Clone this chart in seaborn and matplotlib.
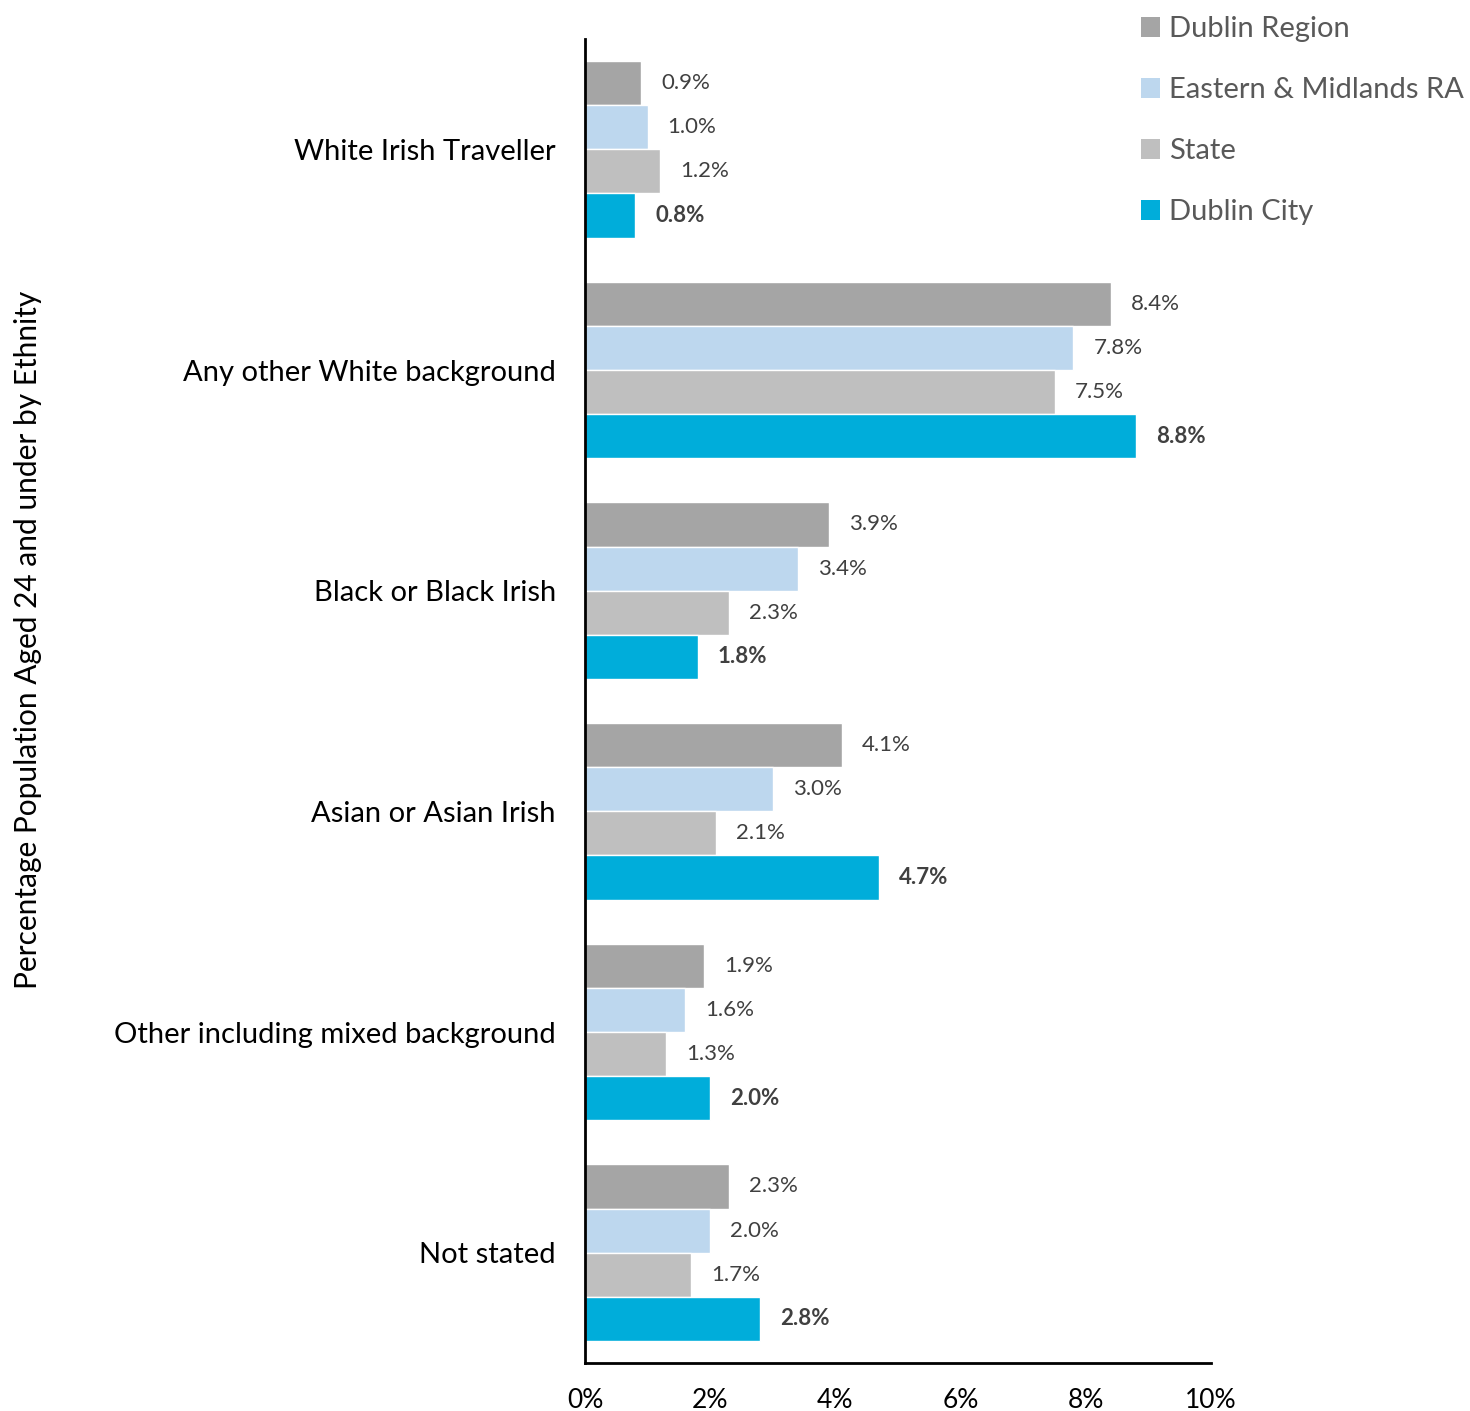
import matplotlib
matplotlib.use("Agg")
import matplotlib.pyplot as plt
import seaborn as sns
import pandas as pd
from matplotlib.patches import Patch
from matplotlib.ticker import FuncFormatter, MultipleLocator

# Ethnic background categories and regions
categories = [
    "White Irish Traveller",
    "Any other White background",
    "Black or Black Irish",
    "Asian or Asian Irish",
    "Other including mixed background",
    "Not stated",
]
regions = ["Dublin Region", "Eastern & Midlands RA", "State", "Dublin City"]

# Percentage of population aged 24 and under, per region
dublin_region = [0.9, 8.4, 3.9, 4.1, 1.9, 2.3]
eastern_midlands = [1.0, 7.8, 3.4, 3.0, 1.6, 2.0]
state = [1.2, 7.5, 2.3, 2.1, 1.3, 1.7]
dublin_city = [0.8, 8.8, 1.8, 4.7, 2.0, 2.8]

colors = ["#A5A5A5", "#BDD7EE", "#BFBFBF", "#00ADDA"]

series = [dublin_region, eastern_midlands, state, dublin_city]
df = pd.DataFrame(
    [
        {"Ethnicity": c, "Region": r, "Percent": v}
        for r, vals in zip(regions, series)
        for c, v in zip(categories, vals)
    ]
)

sns.set_style("white")
plt.rcParams["font.family"] = ["Lato", "DejaVu Sans"]

fig = plt.figure(figsize=(14.7, 14.11), dpi=100)
ax = fig.add_axes([585 / 1470, 48 / 1411, 626 / 1470, 1324 / 1411])

sns.barplot(
    data=df,
    y="Ethnicity",
    x="Percent",
    hue="Region",
    order=categories,
    hue_order=regions,
    palette=colors,
    saturation=1,
    orient="h",
    width=0.8,
    edgecolor="white",
    linewidth=1.0,
    ax=ax,
    legend=False,
)

# Value labels beside each bar; Dublin City in bold
for i, cont in enumerate(ax.containers):
    bold = regions[i] == "Dublin City"
    for bar, v in zip(cont, series[i]):
        ax.text(
            bar.get_width() + 0.32,
            bar.get_y() + bar.get_height() / 2,
            f"{v:.1f}%",
            va="center",
            ha="left",
            fontsize=16,
            color="#404040",
            fontweight="bold" if bold else "normal",
        )

ax.set_xlim(0, 10)
ax.set_ylim(5.5, -0.5)
ax.xaxis.set_major_locator(MultipleLocator(2))
ax.xaxis.set_major_formatter(FuncFormatter(lambda x, _: f"{x:.0f}%"))
ax.tick_params(axis="x", length=0, pad=18, labelsize=19, labelcolor="black")
ax.tick_params(axis="y", length=0, pad=21, labelsize=21, labelcolor="black")
ax.set_xlabel("")
ax.set_ylabel("")
for side in ["top", "right"]:
    ax.spines[side].set_visible(False)
for side in ["left", "bottom"]:
    ax.spines[side].set_color("black")
    ax.spines[side].set_linewidth(2)

fig.text(
    28 / 1470,
    (1411 - 640) / 1411,
    "Percentage Population Aged 24 and under by Ethnity",
    rotation=90,
    va="center",
    ha="center",
    fontsize=21.5,
    color="black",
)

# Legend with square markers, top right
handles = [Patch(facecolor=c, edgecolor="none") for c in colors]
fig.legend(
    handles,
    regions,
    loc="upper left",
    bbox_to_anchor=(1115 / 1470, 1 + 10 / 1411),
    frameon=False,
    fontsize=21,
    handlelength=0.65,
    handleheight=0.65,
    handletextpad=0.3,
    labelspacing=1.2,
    labelcolor="#595959",
)

fig.savefig("out.png", dpi=100)
